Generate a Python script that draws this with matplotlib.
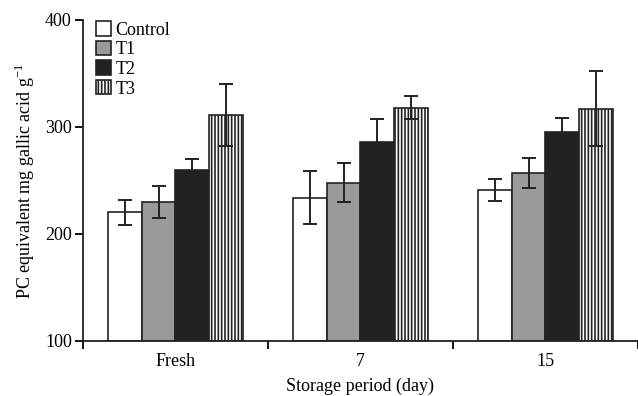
import numpy as np
import matplotlib
matplotlib.use('Agg')
import matplotlib.pyplot as plt

plt.rcParams['font.family'] = ['Liberation Serif', 'DejaVu Serif']
plt.rcParams['hatch.color'] = '#8a8a8a'
plt.rcParams['hatch.linewidth'] = 1.2
plt.rcParams['mathtext.fontset'] = 'custom'
plt.rcParams['mathtext.rm'] = 'Liberation Serif'

periods = ['Fresh', '7', '15']
treatments = ['Control', 'T1', 'T2', 'T3']
means = {
    'Control': [220, 234, 241],
    'T1': [230, 248, 257],
    'T2': [260, 286, 295],
    'T3': [311, 318, 317],
}
errors = {
    'Control': [12, 25, 10],
    'T1': [15, 18, 14],
    'T2': [10, 21, 13],
    'T3': [29, 11, 35],
}

colors = {'Control': 'white', 'T1': '#9a9a9a', 'T2': '#222222', 'T3': 'white'}
hatches = {'Control': None, 'T1': None, 'T2': None, 'T3': '|||||'}

fig = plt.figure(figsize=(6.38, 3.96), dpi=100)
ax = fig.add_axes([0.130, 0.139, 0.870, 0.811])

x = np.arange(len(periods))
w = 0.183
for i, t in enumerate(treatments):
    pos = x + (i - 1.5) * w
    ax.bar(pos, np.array(means[t]) - 100, w, bottom=100, color=colors[t],
           edgecolor='#222222', linewidth=1.2, hatch=hatches[t], label=t)
    ax.errorbar(pos, means[t], yerr=errors[t], fmt='none', ecolor='#222222',
                elinewidth=1.4, capsize=4.8, capthick=1.4)

ax.set_xlim(-0.5, 2.5)
ax.set_ylim(100, 400)
ax.set_yticks([100, 200, 300, 400])
ax.set_xticks(x)
ax.set_xticklabels(periods)
ax.set_xticks([-0.5, 0.5, 1.5, 2.5], minor=True)
ax.tick_params(axis='x', which='major', length=0, pad=9, labelsize=13)
ax.tick_params(axis='x', which='minor', length=6, width=1.3, direction='out')
ax.tick_params(axis='y', length=6, width=1.3, direction='out', labelsize=13, pad=2)

for s in ['top', 'right']:
    ax.spines[s].set_visible(False)
for s in ['left', 'bottom']:
    ax.spines[s].set_linewidth(1.3)
    ax.spines[s].set_color('#222222')

ax.set_xlabel('Storage period (day)', fontsize=13, labelpad=5)
ax.set_ylabel('PC equivalent mg gallic acid g$^{-1}$', fontsize=13, labelpad=6)

ax.legend(loc='upper left', bbox_to_anchor=(0.0, 1.035), frameon=False,
          fontsize=13, handlelength=0.85, handleheight=0.85, handletextpad=0.25,
          labelspacing=0.12, borderaxespad=0.3)

fig.savefig('out.png', dpi=100)
